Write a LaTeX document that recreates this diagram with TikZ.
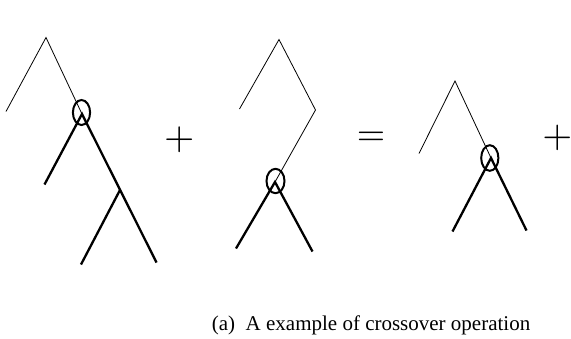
\documentclass[tikz,border=0pt]{standalone}
\usepackage{graphicx}
\usepackage{fontspec}
\setmainfont{Liberation Serif}
\begin{document}
\begin{tikzpicture}[x=1pt,y=-1pt,
  thinedge/.style={line width=0.8pt},
  thickedge/.style={line width=2.3pt},
  opsym/.style={inner sep=0pt},
  caption/.style={inner sep=0pt,anchor=base west,font=\fontsize{21}{24}\selectfont}]
\useasboundingbox (0,0) rectangle (571,338);
% tree 1
\coordinate (t1a) at (46,37.5);
\coordinate (t1l) at (6,111.5);
\coordinate (t1n) at (82,114);
\coordinate (t1ll) at (44.5,184.5);
\coordinate (t1r) at (120,190);
\coordinate (t1rl) at (81,264.5);
\coordinate (t1rr) at (156.5,262.5);
\draw[thinedge] (t1l) -- (t1a) -- (t1n);
\draw[thickedge] (t1ll) -- (t1n) -- (t1rr);
\draw[thickedge] (t1r) -- (t1rl);
\draw[line width=2pt] (81.5,112.5) ellipse [x radius=8.6, y radius=12.5];
% plus 1
\node[opsym] (p1) at (179.3,139.5) {\scalebox{3.9}{$\mkern-1mu+\mkern-1mu$}};
% tree 2
\coordinate (t2a) at (279,39.5);
\coordinate (t2l) at (239.5,109);
\coordinate (t2b) at (315.5,110);
\coordinate (t2n) at (275,182);
\coordinate (t2ll) at (236,248.5);
\coordinate (t2rr) at (312.5,251.5);
\draw[thinedge] (t2l) -- (t2a) -- (t2b) -- (t2n);
\draw[thickedge] (t2ll) -- (t2n) -- (t2rr);
\draw[line width=2pt] (275.5,181) ellipse [x radius=9, y radius=12.2];
% equals
\node[opsym] (eq) at (371,139.2) {\scalebox{3.65}{$\mkern-1mu=\mkern-1mu$}};
% tree 3
\coordinate (t3a) at (455,81);
\coordinate (t3l) at (419,153.5);
\coordinate (t3n) at (491,158);
\coordinate (t3ll) at (452.5,231.5);
\coordinate (t3rr) at (526.5,230.5);
\draw[thinedge] (t3l) -- (t3a) -- (t3n);
\draw[thickedge] (t3ll) -- (t3n) -- (t3rr);
\draw[line width=2pt] (489.8,158) ellipse [x radius=8.6, y radius=12.8];
% plus 2
\node[opsym] (p2) at (557.3,137.5) {\scalebox{3.85}{$\mkern-1mu+\mkern-1mu$}};
% caption
\node[caption] (cap) at (211.7,330.7) {(a)\ \ A example of crossover operation};
\end{tikzpicture}
\end{document}
